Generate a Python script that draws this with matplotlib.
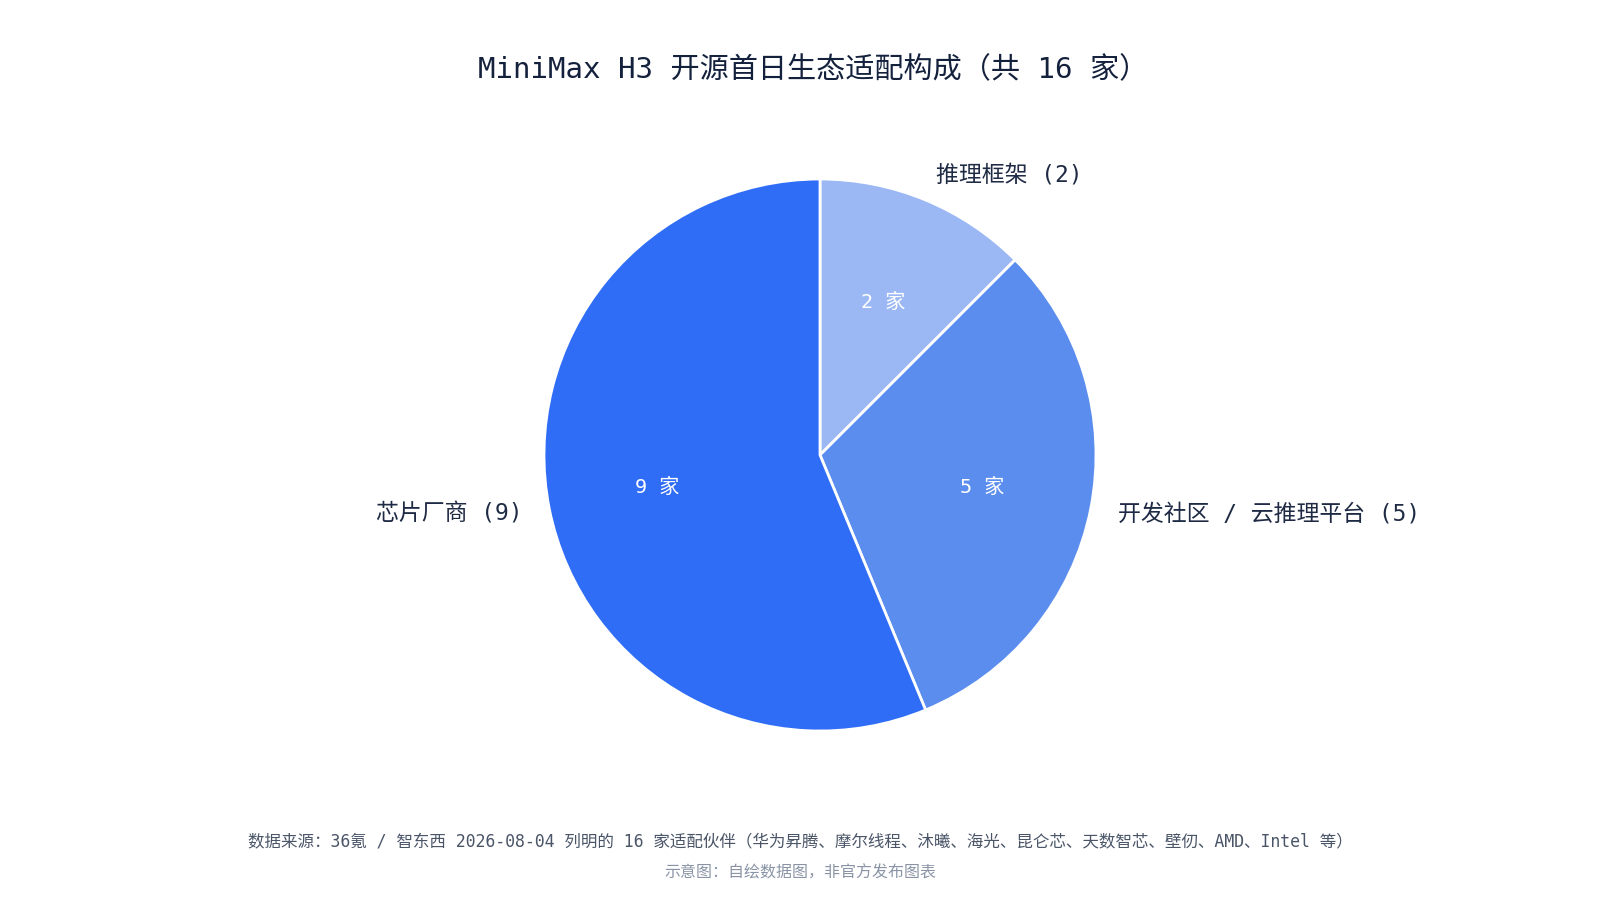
import matplotlib
matplotlib.use('Agg')
import matplotlib.pyplot as plt

# data
categories = ['推理框架', '开发社区 / 云推理平台', '芯片厂商']
counts = [2, 5, 9]
colors = ['#9BB8F5', '#5B8DEE', '#2F6DF6']

title = 'MiniMax H3 开源首日生态适配构成（共 16 家）'
source = '数据来源：36氪 / 智东西 2026-08-04 列明的 16 家适配伙伴（华为昇腾、摩尔线程、沐曦、海光、昆仑芯、天数智芯、壁仞、AMD、Intel 等）'
note = '示意图：自绘数据图，非官方发布图表'

plt.rcParams['font.family'] = ['DejaVu Sans Mono', 'Noto Sans CJK SC']

fig = plt.figure(figsize=(16, 9), dpi=100)
fig.patch.set_facecolor('white')

ax = fig.add_axes([0, 0, 1, 1])
ax.axis('off')

labels = [f'{c} ({n})' for c, n in zip(categories, counts)]
wedges, texts, autotexts = ax.pie(
    counts,
    labels=labels,
    colors=colors,
    startangle=90,
    counterclock=False,
    labeldistance=1.1,
    pctdistance=0.6,
    autopct=lambda p: f'{round(p * sum(counts) / 100)} 家',
    wedgeprops=dict(edgecolor='white', linewidth=2),
    textprops=dict(fontsize=16.5, color='#1f2a44'),
)
for t in autotexts:
    t.set_color('white')
    t.set_fontsize(14.5)

# pie() resets the limits, so set them afterwards: 1 data unit = 276 px
R = 276
cx, cy = 820, 900 - 455
ax.set_xlim(-cx / R, (1600 - cx) / R)
ax.set_ylim(-cy / R, (900 - cy) / R)
ax.set_aspect('equal')

fig.text(813 / 1600, 1 - 70 / 900, title, ha='center', va='center',
         fontsize=21, color='#14213d')
fig.text(0.5, 1 - 841 / 900, source, ha='center', va='center',
         fontsize=11.9, color='#4a5568')
fig.text(0.5, 1 - 873 / 900, note, ha='center', va='center',
         fontsize=11.5, color='#8a94a6')

fig.savefig('out.png', dpi=100)
